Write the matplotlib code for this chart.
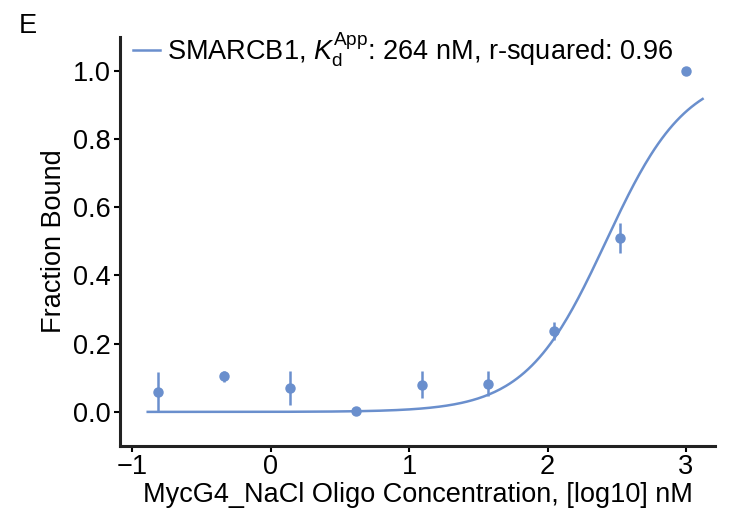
import numpy as np
import matplotlib
matplotlib.use('Agg')
import matplotlib.pyplot as plt

plt.rcParams['font.family'] = ['Liberation Sans', 'DejaVu Sans']
plt.rcParams['mathtext.fontset'] = 'custom'
plt.rcParams['mathtext.rm'] = 'Liberation Sans'
plt.rcParams['mathtext.it'] = 'Liberation Sans:italic'

# 3-fold dilution series from 1000 nM, plotted as log10 nM
conc_nM = [1000 / 3 ** i for i in range(9)][::-1]
frac_bound = [0.058, 0.104, 0.070, 0.004, 0.080, 0.083, 0.237, 0.510, 1.000]
frac_err = [0.058, 0.016, 0.050, 0.0, 0.040, 0.037, 0.027, 0.043, 0.0]

kd_app = 264.0   # nM
hill_n = 1.5
fit_range = (-0.89, 3.12)

color = '#6a8fcd'
fs = 19.5

log_x = np.log10(conc_nM)
xs = np.linspace(fit_range[0], fit_range[1], 300)
conc = 10 ** xs
fit = conc ** hill_n / (kd_app ** hill_n + conc ** hill_n)

fig = plt.figure(figsize=(7.41, 5.18), dpi=100)
ax = fig.add_axes([0.162, 0.139, 0.803, 0.79])

ax.plot(xs, fit, color=color, lw=1.8,
        label=r'SMARCB1, $K_\mathregular{d}^\mathregular{App}$: 264 nM, r-squared: 0.96')
ax.errorbar(log_x, frac_bound, yerr=frac_err, fmt='o', color=color,
            ms=6.5, elinewidth=1.8, capsize=0)

ax.set_xlim(-1.09, 3.21)
ax.set_ylim(-0.1, 1.1)
ax.set_xticks([-1, 0, 1, 2, 3])
ax.set_xticklabels(['\u22121', '0', '1', '2', '3'])
ax.set_yticks([0.0, 0.2, 0.4, 0.6, 0.8, 1.0])
ax.set_yticklabels(['0.0', '0.2', '0.4', '0.6', '0.8', '1.0'])
ax.tick_params(labelsize=fs, length=4, width=1.5, direction='out')
ax.tick_params(axis='x', pad=2)
ax.tick_params(axis='y', pad=3)

for side in ['top', 'right']:
    ax.spines[side].set_visible(False)
for side in ['left', 'bottom']:
    ax.spines[side].set_linewidth(2.2)
    ax.spines[side].set_color('#222222')

ax.set_xlabel('MycG4_NaCl Oligo Concentration, [log10] nM', fontsize=fs, labelpad=1)
ax.set_ylabel('Fraction Bound', fontsize=fs, labelpad=4)

ax.legend(loc='upper left', frameon=False, fontsize=fs, handlelength=1.0,
          handletextpad=0.25, borderaxespad=0.1, borderpad=0.2,
          bbox_to_anchor=(0.008, 1.035))

fig.text(0.025, 0.975, 'E', fontsize=fs, va='top', ha='left')

fig.savefig('out.png', dpi=100)
